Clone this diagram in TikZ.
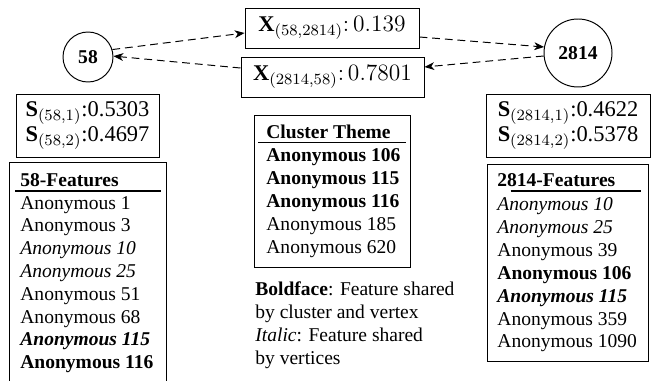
\documentclass[tikz,border=0pt]{standalone}
\usepackage{fontspec}
\setmainfont{Liberation Serif}
\usetikzlibrary{arrows.meta}
\def\u{0.512pt}
\begin{document}
\begin{tikzpicture}[x=0.512pt,y=-0.512pt,
  every node/.style={font=\fontsize{10}{11}\selectfont},
  vtx/.style={draw,circle,line width=0.5pt,inner sep=0pt},
  box/.style={draw,rectangle,line width=0.5pt,inner sep=0pt},
  big/.style={font=\fontsize{11.5}{10.8}\selectfont},
  row/.style={anchor=base west,inner sep=0pt},
  conn/.style={line width=0.5pt,dash pattern=on 4pt off 2.5pt,-{Stealth[length=5pt,width=4pt,inset=1.5pt]}},
  rule/.style={line width=0.7pt}]
\clip (0,0) rectangle (657,380);
% vertices
\node[vtx,minimum size=50*\u] (v58) at (88,57) {\textbf{58}};
\node[vtx,minimum size=68*\u] (v2814) at (578,53) {\textbf{2814}};
% edge weight boxes
\node[box,big,minimum width=174*\u,minimum height=40*\u] (x1) at (332,28) {$\mathbf{X}_{(58,2814)}\colon 0.139$};
\node[box,big,minimum width=183*\u,minimum height=40*\u] (x2) at (332.5,77) {$\mathbf{X}_{(2814,58)}\colon 0.7801$};
% connectors
\draw[conn] (v58.17) -- ([yshift=-5*\u]x1.west);
\draw[conn] ([yshift=-9*\u]x1.east) -- (v2814.170);
\draw[conn] (v2814.185) -- ([yshift=10*\u]x2.east);
\draw[conn] ([yshift=9*\u]x2.west) -- (v58.2);
% S boxes
\node[box,big,minimum width=143*\u,minimum height=63*\u,align=left] (s58) at (87.5,125.5)
  {$\mathbf{S}_{(58,1)}$:0.5303\\$\mathbf{S}_{(58,2)}$:0.4697};
\node[box,big,minimum width=164*\u,minimum height=63*\u,align=left] (s2814) at (568,125.5)
  {$\mathbf{S}_{(2814,1)}$:0.4622\\$\mathbf{S}_{(2814,2)}$:0.5378};
% 58 features
\node[box,minimum width=157*\u,minimum height=236*\u] (f58) at (87.5,280) {};
\node[row] (f58t) at (20,186) {\textbf{58-Features}};
\draw[rule] (15,191) -- (161,191);
\node[row] (f58a) at (20,209) {Anonymous 1};
\node[row] (f58b) at (20,231.8) {Anonymous 3};
\node[row] (f58c) at (20,254.6) {\textit{Anonymous 10}};
\node[row] (f58d) at (20,277.4) {\textit{Anonymous 25}};
\node[row] (f58e) at (20,300.2) {Anonymous 51};
\node[row] (f58f) at (20,323.0) {Anonymous 68};
\node[row] (f58g) at (20,345.8) {\textbf{\textit{Anonymous 115}}};
\node[row] (f58h) at (20,368.6) {\textbf{Anonymous 116}};
% cluster theme
\node[box,minimum width=156*\u,minimum height=152*\u] (ct) at (332.5,191) {};
\node[row] (ctt) at (266,138) {\textbf{Cluster Theme}};
\draw[rule] (258,142.5) -- (405.5,142.5);
\node[row] (cta) at (266,161) {\textbf{Anonymous 106}};
\node[row] (ctb) at (266,184) {\textbf{Anonymous 115}};
\node[row] (ctc) at (266,207) {\textbf{Anonymous 116}};
\node[row] (ctd) at (266,230) {Anonymous 185};
\node[row] (cte) at (266,253) {Anonymous 620};
% legend
\node[anchor=north west,inner sep=0pt,align=left,font=\fontsize{10}{11.8}\selectfont] (leg) at (255,281)
  {\textbf{Boldface}: Feature shared\\by cluster and vertex\\\textit{Italic}: Feature shared\\by vertices};
% 2814 features
\node[box,minimum width=161*\u,minimum height=197*\u] (f2814) at (567.5,262.5) {};
\node[row] (f2814t) at (497,186) {\textbf{2814-Features}};
\draw[rule] (510.5,191) -- (640.5,191);
\node[row] (f2814a) at (497,210.5) {\textit{Anonymous 10}};
\node[row] (f2814b) at (497,233.4) {\textit{Anonymous 25}};
\node[row] (f2814c) at (497,256.3) {Anonymous 39};
\node[row] (f2814d) at (497,279.2) {\textbf{Anonymous 106}};
\node[row] (f2814e) at (497,302.1) {\textbf{\textit{Anonymous 115}}};
\node[row] (f2814f) at (497,325.0) {Anonymous 359};
\node[row] (f2814g) at (497,347.9) {Anonymous 1090};
\end{tikzpicture}
\end{document}
